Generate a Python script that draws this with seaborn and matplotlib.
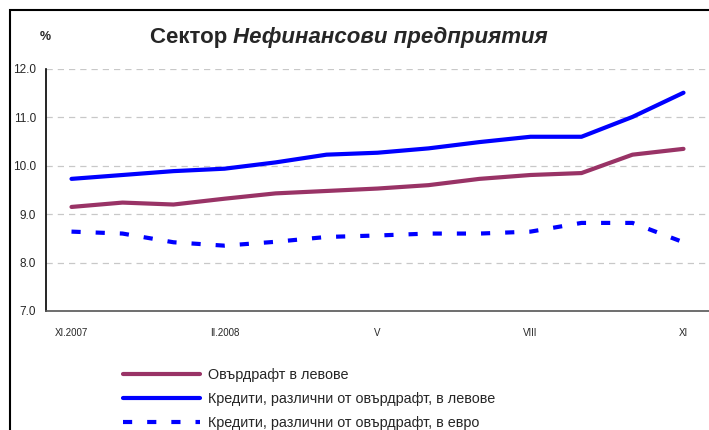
import numpy as np
import pandas as pd
import matplotlib
matplotlib.use("Agg")
import matplotlib.pyplot as plt
import seaborn as sns
from matplotlib.lines import Line2D
from matplotlib.patches import Rectangle

months = ["XI.2007", "XII", "I.2008", "II.2008", "III", "IV", "V", "VI", "VII",
          "VIII", "IX", "X", "XI"]
tick_labels = ["XI.2007", "II.2008", "V", "VIII", "XI"]
tick_idx = [0, 3, 6, 9, 12]

overdraft_bgn = [9.15, 9.24, 9.20, 9.32, 9.43, 9.48, 9.53, 9.60, 9.73, 9.81, 9.85, 10.23, 10.35]
loans_bgn = [9.73, 9.81, 9.89, 9.94, 10.07, 10.23, 10.27, 10.36, 10.49, 10.60, 10.60, 11.01, 11.51]
loans_eur = [8.64, 8.60, 8.42, 8.35, 8.43, 8.53, 8.56, 8.60, 8.60, 8.64, 8.82, 8.82, 8.42]

labels = ["Овърдрафт в левове",
          "Кредити, различни от овърдрафт, в левове",
          "Кредити, различни от овърдрафт, в евро"]

sns.set_style("white")
plt.rcParams["font.family"] = ["Liberation Sans", "DejaVu Sans"]

fig = plt.figure(figsize=(7.09, 4.30), dpi=100)
ax = fig.add_axes([46/709, 1-311/430, 663/709, (311-69)/430])

x = np.arange(len(months))
df = pd.DataFrame({"x": x, "o": overdraft_bgn, "l": loans_bgn, "e": loans_eur})

purple = "#993366"
blue = "#0000FF"
sns.lineplot(data=df, x="x", y="o", ax=ax, color=purple, lw=3.0)
sns.lineplot(data=df, x="x", y="l", ax=ax, color=blue, lw=3.0)
sns.lineplot(data=df, x="x", y="e", ax=ax, color=blue, lw=3.0)
ax.lines[-1].set_dashes((2.2, 3.6))
ax.lines[-1].set_dash_capstyle("butt")

ax.set_xlim(-0.5, 12.5)
ax.set_ylim(7.0, 12.0)
ax.set_yticks([7, 8, 9, 10, 11, 12])
ax.set_yticklabels([f"{v:.1f}" for v in [7, 8, 9, 10, 11, 12]], fontsize=8.5)
ax.set_xticks(tick_idx)
ax.set_xticklabels(tick_labels, fontsize=7)
ax.set_xticks(np.arange(-0.5, 13, 1), minor=True)
ax.tick_params(axis="x", which="major", length=0, pad=12)
ax.tick_params(axis="x", which="minor", length=4, width=1, color="#333333")
ax.tick_params(axis="y", length=4, width=1, color="#333333", pad=3)
ax.set_xlabel("")
ax.set_ylabel("")
for yv in [8, 9, 10, 11, 12]:
    ax.axhline(yv, color="#c8c8c8", lw=0.9, dashes=(5, 4), zorder=0)
for s in ["top", "right"]:
    ax.spines[s].set_visible(False)
ax.spines["left"].set_color("black")
ax.spines["left"].set_linewidth(1.2)
ax.spines["bottom"].set_color("#555555")
ax.spines["bottom"].set_linewidth(1.2)

fig.text(233/709, 1-37/430, "Сектор ", fontsize=16, fontweight="bold",
         ha="right", va="center")
fig.text(233/709, 1-37/430, "Нефинансови предприятия", fontsize=16,
         fontweight="bold", style="italic", ha="left", va="center")
fig.text(45/709, 1-37/430, "%", fontsize=9, fontweight="bold", ha="center", va="center")

handles = [Line2D([0], [0], color=purple, lw=3),
           Line2D([0], [0], color=blue, lw=3),
           Line2D([0], [0], color=blue, lw=3, dashes=(2.2, 3.6), dash_capstyle="butt")]
fig.legend(handles, labels, loc="upper left", bbox_to_anchor=(123/709, 1-368/430),
           frameon=False, fontsize=10.4, handlelength=5.3, handletextpad=0.55,
           labelspacing=0.68, borderaxespad=0, borderpad=0)

fig.add_artist(Rectangle((10/709, -0.1), 1.2, 1 - 10/430 + 0.1, transform=fig.transFigure,
                         fill=False, edgecolor="black", lw=1.5))

fig.savefig("out.png", dpi=100)
